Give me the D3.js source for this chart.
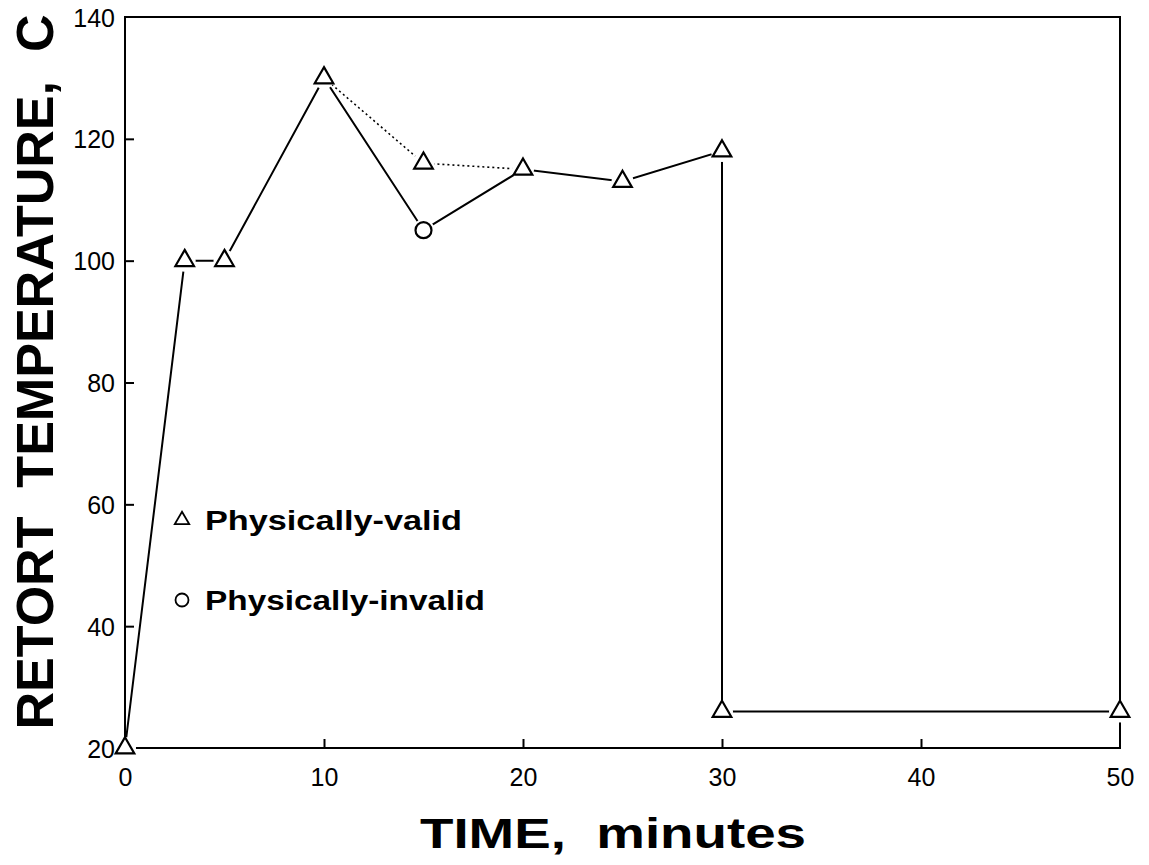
<!DOCTYPE html>
<html>
<head>
<meta charset="utf-8">
<script src="https://cdn.jsdelivr.net/npm/d3@7"></script>
<style>
  body { margin: 0; background: #fff; }
  svg { display: block; }
  text { font-family: "Liberation Sans", Arial, sans-serif; }
</style>
</head>
<body>
<div id="chart"></div>
<script>
const width = 1149, height = 865;
const margin = { top: 17, right: 29, bottom: 117, left: 125 };
const innerWidth = width - margin.left - margin.right;
const innerHeight = height - margin.top - margin.bottom;

// solid curve (time, temperature)
const solidTime = [0, 3, 5, 10, 15, 20, 25, 30, 30, 50];
const solidTemp = [20, 100, 100, 130, 105, 115, 113, 118, 26, 26];
// dotted curve through the valid point at 15 min
const dottedTime = [10, 15, 20];
const dottedTemp = [130, 116, 115];
// markers
const validTime = [0, 3, 5, 10, 15, 20, 25, 30, 30, 50];
const validTemp = [20, 100, 100, 130, 116, 115, 113, 118, 26, 26];
const invalidTime = [15];
const invalidTemp = [105];

const xTicks = [0, 10, 20, 30, 40, 50];
const yTicks = [20, 40, 60, 80, 100, 120, 140];
const legendLabels = ["Physically-valid", "Physically-invalid"];

const svg = d3.select("#chart")
  .append("svg")
    .attr("width", width)
    .attr("height", height)
    .attr("viewBox", [0, 0, width, height]);

const innerChart = svg.append("g")
  .attr("transform", `translate(${margin.left}, ${margin.top})`);

const xScale = d3.scaleLinear().domain([0, 50]).range([0, innerWidth]);
const yScale = d3.scaleLinear().domain([20, 140]).range([innerHeight, 0]);

// frame
innerChart.append("rect")
  .attr("width", innerWidth)
  .attr("height", innerHeight)
  .attr("fill", "none")
  .attr("stroke", "#000")
  .attr("stroke-width", 2);

// lines
const line = d3.line().x(d => xScale(d[0])).y(d => yScale(d[1]));

innerChart.append("path")
  .datum(solidTime.map((t, i) => [t, solidTemp[i]]))
  .attr("d", line)
  .attr("fill", "none")
  .attr("stroke", "#000")
  .attr("stroke-width", 2);

innerChart.append("path")
  .datum(dottedTime.map((t, i) => [t, dottedTemp[i]]))
  .attr("d", line)
  .attr("fill", "none")
  .attr("stroke", "#000")
  .attr("stroke-width", 1.6)
  .attr("stroke-dasharray", "2 3");

// markers with white halo so lines stop short of them
const triangle = d3.symbol().type(d3.symbolTriangle).size(150);
const validPts = validTime.map((t, i) => [t, validTemp[i]]);
const invalidPts = invalidTime.map((t, i) => [t, invalidTemp[i]]);

innerChart.selectAll(".halo")
  .data(validPts.concat(invalidPts))
  .join("circle")
    .attr("class", "halo")
    .attr("cx", d => xScale(d[0]))
    .attr("cy", d => yScale(d[1]))
    .attr("r", 11)
    .attr("fill", "#fff");

innerChart.selectAll(".valid")
  .data(validPts)
  .join("path")
    .attr("class", "valid")
    .attr("d", triangle)
    .attr("transform", d => `translate(${xScale(d[0])}, ${yScale(d[1])})`)
    .attr("fill", "#fff")
    .attr("stroke", "#000")
    .attr("stroke-width", 2.2);

innerChart.selectAll(".invalid")
  .data(invalidPts)
  .join("circle")
    .attr("class", "invalid")
    .attr("cx", d => xScale(d[0]))
    .attr("cy", d => yScale(d[1]))
    .attr("r", 8)
    .attr("fill", "#fff")
    .attr("stroke", "#000")
    .attr("stroke-width", 2.2);

// inward tick marks (no labels)
const xTickAxis = innerChart.append("g")
  .attr("transform", `translate(0, ${innerHeight})`)
  .call(d3.axisBottom(xScale).tickValues(xTicks.slice(1, -1)).tickSizeInner(-9).tickSizeOuter(0).tickFormat(""));
const yTickAxis = innerChart.append("g")
  .call(d3.axisLeft(yScale).tickValues(yTicks.slice(1, -1)).tickSizeInner(-9).tickSizeOuter(0).tickFormat(""));
[xTickAxis, yTickAxis].forEach(ax => {
  ax.select(".domain").remove();
  ax.selectAll(".tick line").attr("stroke", "#000").attr("stroke-width", 2);
});

// tick labels, placed outside the frame
const xLabelAxis = svg.append("g")
  .attr("transform", `translate(${margin.left}, ${margin.top + innerHeight + 20})`)
  .call(d3.axisBottom(xScale).tickValues(xTicks).tickSize(0).tickPadding(0));
const yLabelAxis = svg.append("g")
  .attr("transform", `translate(${margin.left - 10}, ${margin.top})`)
  .call(d3.axisLeft(yScale).tickValues(yTicks).tickSize(0).tickPadding(0));
[xLabelAxis, yLabelAxis].forEach(ax => {
  ax.select(".domain").remove();
  ax.selectAll(".tick line").remove();
  ax.selectAll(".tick text")
    .attr("font-size", 25)
    .attr("font-family", "Liberation Sans, Arial, sans-serif")
    .attr("fill", "#000");
});
yLabelAxis.selectAll(".tick text").attr("dy", "0.36em");

// legend
const legend = innerChart.append("g").attr("transform", "translate(57, 503)");
legend.append("path")
  .attr("d", d3.symbol().type(d3.symbolTriangle).size(90))
  .attr("fill", "#fff").attr("stroke", "#000").attr("stroke-width", 1.8);
legend.append("circle")
  .attr("cy", 80).attr("r", 6.5)
  .attr("fill", "#fff").attr("stroke", "#000").attr("stroke-width", 1.8);
legend.selectAll(".legend-text")
  .data(legendLabels)
  .join("text")
    .attr("class", "legend-text")
    .attr("x", 23)
    .attr("y", (d, i) => i * 80)
    .attr("dy", "0.36em")
    .attr("font-size", 27)
    .attr("font-weight", "bold")
    .attr("textLength", (d, i) => i === 0 ? 257 : 280)
    .attr("lengthAdjust", "spacingAndGlyphs")
    .text(d => d);

// axis titles
svg.append("text")
  .attr("x", 613)
  .attr("y", 848)
  .attr("text-anchor", "middle")
  .attr("font-size", 42)
  .attr("font-weight", "bold")
  .attr("textLength", 386)
  .attr("lengthAdjust", "spacingAndGlyphs")
  .text("TIME,\u00a0\u00a0minutes");

svg.append("text")
  .attr("transform", "translate(53, 372) rotate(-90)")
  .attr("text-anchor", "middle")
  .attr("font-size", 52)
  .attr("font-weight", "bold")
  .attr("textLength", 715)
  .attr("lengthAdjust", "spacingAndGlyphs")
  .text("RETORT\u00a0\u00a0TEMPERATURE,\u00a0\u00a0C");
</script>
</body>
</html>
